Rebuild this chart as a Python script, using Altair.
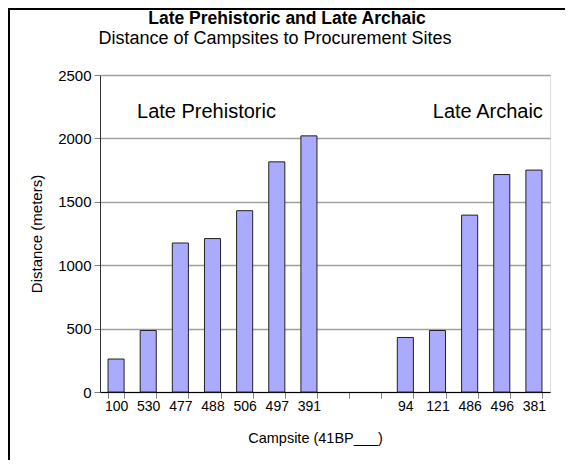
import altair as alt
import pandas as pd

# ---- data ----
campsites = ["100", "530", "477", "488", "506", "497", "391",
             "94", "121", "486", "496", "381"]
distances = [260, 485, 1175, 1210, 1430, 1815, 2020,
             430, 485, 1395, 1715, 1750]
periods = ["Late Prehistoric"] * 7 + ["Late Archaic"] * 5
gap_slots = [" ", "  "]  # two empty slots between the groups
x_order = campsites[:7] + gap_slots + campsites[7:]

group_labels = ["Late Prehistoric", "Late Archaic"]
group_anchor = ["488", "496"]
group_y = [2205, 2205]
group_dx = [-6, -14]

y_ticks = list(range(0, 2501, 250))

title_text = "Late Prehistoric and Late Archaic"
subtitle_text = "Distance of Campsites to Procurement Sites"

bars_df = pd.DataFrame({"campsite": campsites, "distance": distances, "period": periods})
ann_df = pd.DataFrame({"label": group_labels, "campsite": group_anchor,
                       "distance": group_y, "dx": group_dx})
frame_df = pd.DataFrame({"edge": ["frame"]})
title_df = pd.DataFrame({"t": [title_text]})
subtitle_df = pd.DataFrame({"t": [subtitle_text]})

FONT = "Liberation Sans"

x_scale = alt.Scale(domain=x_order, paddingInner=0.5, paddingOuter=0.25)
y_scale = alt.Scale(domain=[0, 2500], nice=False)

major = "datum.value % 500 === 0"

x_axis = alt.Axis(
    tickBand="extent", labelAngle=0, tickSize=6, tickColor="#808080",
    domainColor="#000000", labelFont=FONT, labelFontSize=14, labelColor="black",
    labelPadding=1, title="Campsite (41BP___)", titleFont=FONT, titleFontSize=14.5,
    titleFontWeight="normal", titleColor="black", titlePadding=18, grid=False,
    titleX=215,
)
y_axis = alt.Axis(
    values=y_ticks, format="d",
    labelExpr="datum.value % 500 === 0 ? datum.label : ''",
    grid=True, gridColor="#a0a0a0", gridWidth=1.5,
    gridOpacity={"condition": {"test": major, "value": 1}, "value": 0},
    tickSize={"condition": {"test": major, "value": 6}, "value": 4},
    tickColor="#808080", domainColor="#333333",
    labelFont=FONT, labelFontSize=15, labelColor="black", labelPadding=3,
    title="Distance (meters)", titleFont=FONT, titleFontSize=15,
    titleFontWeight="normal", titleColor="black", titlePadding=13,
)

bars = alt.Chart(bars_df).mark_bar(
    fill="#aaaaff", stroke="#222222", strokeWidth=1
).encode(
    x=alt.X("campsite:N", sort=x_order, scale=x_scale, axis=x_axis),
    y=alt.Y("distance:Q", scale=y_scale, axis=y_axis),
)

ann_lp = alt.Chart(ann_df.iloc[[0]]).mark_text(
    font=FONT, fontSize=20, color="black", dx=group_dx[0], baseline="middle"
).encode(
    x=alt.X("campsite:N", sort=x_order, scale=x_scale),
    y=alt.Y("distance:Q", scale=y_scale),
    text="label:N",
)
ann_la = alt.Chart(ann_df.iloc[[1]]).mark_text(
    font=FONT, fontSize=20, color="black", dx=group_dx[1], baseline="middle"
).encode(
    x=alt.X("campsite:N", sort=x_order, scale=x_scale),
    y=alt.Y("distance:Q", scale=y_scale),
    text="label:N",
)

# chart title and subtitle (drawn as text so the outer frame does not move them)
title_mark = alt.Chart(title_df).mark_text(
    font=FONT, fontSize=17.5, fontWeight="bold", color="black",
    align="center", baseline="alphabetic"
).encode(x=alt.value(187), y=alt.value(-51), text="t:N")
subtitle_mark = alt.Chart(subtitle_df).mark_text(
    font=FONT, fontSize=18, color="black", align="center", baseline="alphabetic"
).encode(x=alt.value(175), y=alt.value(-31), text="t:N")

# outer frame (left and top edges, as in the reference)
frame_left = alt.Chart(frame_df).mark_rule(color="black", strokeWidth=2).encode(
    x=alt.value(-91), y=alt.value(-66), y2=alt.value(386)
)
frame_top = alt.Chart(frame_df).mark_rule(color="black", strokeWidth=2).encode(
    y=alt.value(-66), x=alt.value(-92), x2=alt.value(465)
)

chart = alt.layer(
    bars, ann_lp, ann_la, title_mark, subtitle_mark, frame_left, frame_top
).properties(
    width=450,
    height=317,
    autosize=alt.AutoSizeParams(type="none"),
    padding={"left": 92, "top": 67, "right": 15, "bottom": 68},
).configure_view(
    stroke="#555555", strokeWidth=1
).configure(background="white")

chart.save("out.html", embed_options={"renderer": "svg", "actions": False})
